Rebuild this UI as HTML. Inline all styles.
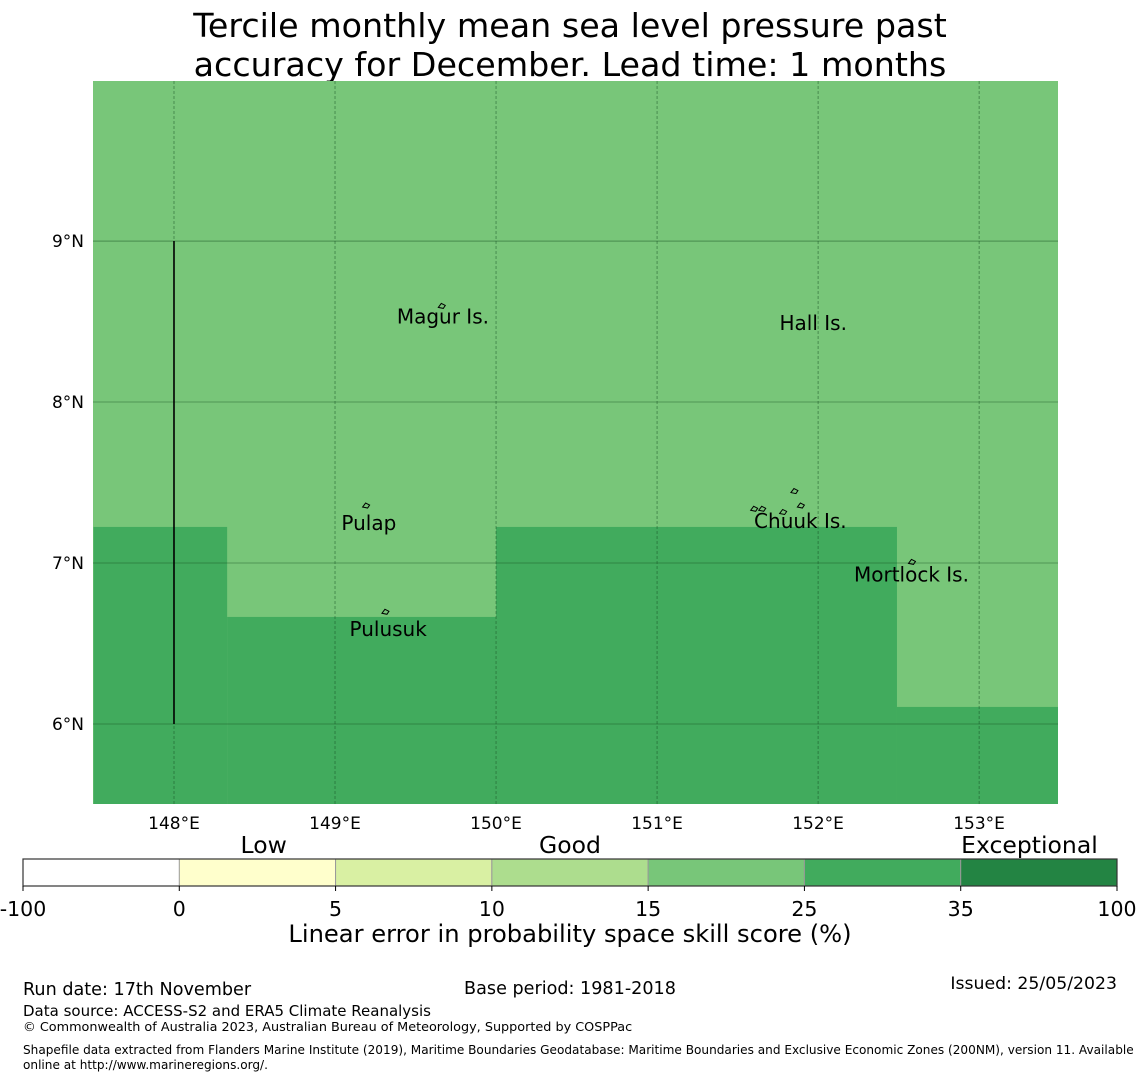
<!DOCTYPE html>
<html><head><meta charset="utf-8">
<style>
body{margin:0;background:#fff;font-family:"DejaVu Sans","Liberation Sans",sans-serif;}
svg{display:block}
text{font-family:"DejaVu Sans","Liberation Sans",sans-serif;}
</style></head>
<body>
<svg id="chart" width="1140" height="1080" viewBox="0 0 1140 1080" xmlns="http://www.w3.org/2000/svg">
<text x="570" y="37" font-size="33.3" text-anchor="middle">Tercile monthly mean sea level pressure past</text>
<text x="570" y="76" font-size="33.3" text-anchor="middle">accuracy for December. Lead time: 1 months</text>
<g id="map"></g>
<g id="cbar"></g>
<text x="570" y="942" font-size="24.2" text-anchor="middle">Linear error in probability space skill score (%)</text>
<text x="23" y="995" font-size="17.6">Run date: 17th November</text>
<text x="570" y="994" font-size="17.6" text-anchor="middle">Base period: 1981-2018</text>
<text x="1117" y="989" font-size="17.3" text-anchor="end">Issued: 25/05/2023</text>
<text x="23" y="1016" font-size="15">Data source: ACCESS-S2 and ERA5 Climate Reanalysis</text>
<text x="23" y="1031" font-size="12.8">© Commonwealth of Australia 2023, Australian Bureau of Meteorology, Supported by COSPPac</text>
<text x="23" y="1054" font-size="12.1">Shapefile data extracted from Flanders Marine Institute (2019), Maritime Boundaries Geodatabase: Maritime Boundaries and Exclusive Economic Zones (200NM), version 11. Available</text>
<text x="23" y="1069" font-size="12.1">online at http://www.marineregions.org/.</text>
</svg>
<script>
// Data
const lonTicks=[148,149,150,151,152,153];
const latTicks=[6,7,8,9];
const cellLon0=[147.5,148.33,150.0,152.49,147.5];
const cellLon1=[148.33,150.0,152.49,153.5,153.5];
const cellLatTop=[7.224,6.665,7.224,6.106,10.0];
const cellSkill=[30,30,30,30,20];
const places=["Magur Is.","Hall Is.","Pulap","Chuuk Is.","Mortlock Is.","Pulusuk"];
const placeLon=[149.67,151.97,149.21,151.89,152.58,149.33];
const placeLat=[8.53,8.49,7.25,7.26,6.93,6.59];
const cbBounds=[-100,0,5,10,15,25,35,100];
const cbColors=["#ffffff","#ffffcc","#d9f0a3","#addd8e","#78c679","#41ab5d","#238443"];
const cbCats=["Low","Good","Exceptional"];
const cbCatIdx=[1.54,3.5,6.44];

const NS="http://www.w3.org/2000/svg";
const X0=93,X1=1058,Y0=81,Y1=804;
const lonMin=147.497,lonMax=153.49,latMin=5.503,latMax=9.994;
const sx=l=>X0+(l-lonMin)/(lonMax-lonMin)*(X1-X0);
const sy=l=>Y1-(l-latMin)/(latMax-latMin)*(Y1-Y0);
function mk(t,a,p){const e=document.createElementNS(NS,t);for(const k in a)e.setAttribute(k,a[k]);p.appendChild(e);return e;}
function colorFor(v){for(let i=0;i<cbColors.length;i++){if(v<cbBounds[i+1])return cbColors[i];}return cbColors[cbColors.length-1];}
const map=document.getElementById('map');
mk('rect',{x:X0,y:Y0,width:X1-X0,height:Y1-Y0,fill:colorFor(20)},map);
const order=[4,0,1,2,3];
order.forEach(i=>{
  const x=Math.max(X0,sx(cellLon0[i])),x2=Math.min(X1,sx(cellLon1[i]));
  const y=Math.max(Y0,sy(cellLatTop[i]));
  const r=mk('rect',{x:x,y:y,width:x2-x,height:Y1-y,fill:colorFor(cellSkill[i])},map);
  
  
});
lonTicks.forEach(l=>{
  const x=sx(l);
  const g=mk('line',{x1:x,x2:x,y1:Y0,y2:Y1,stroke:'#154d22','stroke-width':0.6,'stroke-dasharray':'3,2','stroke-opacity':0.8},map);
  
  
  const t=mk('text',{x:x,y:Y1+25,'font-size':17,'text-anchor':'middle'},map);
  t.textContent=l+'°E';
  
  
});
latTicks.forEach(l=>{
  const y=sy(l);
  const g=mk('line',{x1:X0,x2:X1,y1:y,y2:y,stroke:'#154d22','stroke-width':0.6,'stroke-opacity':0.8},map);
  
  
  const t=mk('text',{x:84,y:y+6,'font-size':17,'text-anchor':'end'},map);
  t.textContent=l+'°N';
  
  
});
const bl=mk('line',{x1:sx(148),x2:sx(148),y1:sy(9),y2:sy(6),stroke:'#000','stroke-width':1.6},map);


[[149.66,8.6],[149.19,7.36],[149.31,6.7],[151.85,7.45],[151.65,7.34],[151.78,7.32],[151.89,7.36],[151.6,7.34],[152.58,7.01]].forEach(p=>{
  const c=mk('path',{d:`M${sx(p[0])-3},${sy(p[1])+2} l3,-4 l4,2 l-2,3 z`,fill:'none',stroke:'#000','stroke-width':1},map);
  
  
});
places.forEach((n,i)=>{
  const t=mk('text',{x:sx(placeLon[i]),y:sy(placeLat[i])+7,'font-size':20,'text-anchor':'middle'},map);
  t.textContent=n;
  
  
});
const cb=document.getElementById('cbar');
const CX0=23,CX1=1117,CY=859,CH=27,seg=(CX1-CX0)/cbColors.length;
cbColors.forEach((c,i)=>{
  const r=mk('rect',{x:CX0+i*seg,y:CY,width:seg,height:CH,fill:c,stroke:i>0?'#999':'none','stroke-width':1},cb);
  
  
});
mk('rect',{x:CX0,y:CY,width:CX1-CX0,height:CH,fill:'none',stroke:'#333','stroke-width':1.2},cb);
cbBounds.forEach((b,i)=>{
  const x=CX0+i*seg;
  mk('line',{x1:x,x2:x,y1:CY+CH,y2:CY+CH+5,stroke:'#000'},cb);
  const t=mk('text',{x:x,y:CY+CH+30,'font-size':20.5,'text-anchor':'middle'},cb);
  t.textContent=b;
  
  
});
cbCats.forEach((c,i)=>{
  const t=mk('text',{x:CX0+cbCatIdx[i]*seg,y:CY-6,'font-size':23.5,'text-anchor':'middle'},cb);
  t.textContent=c;
  
  
});
</script>
</body></html>
